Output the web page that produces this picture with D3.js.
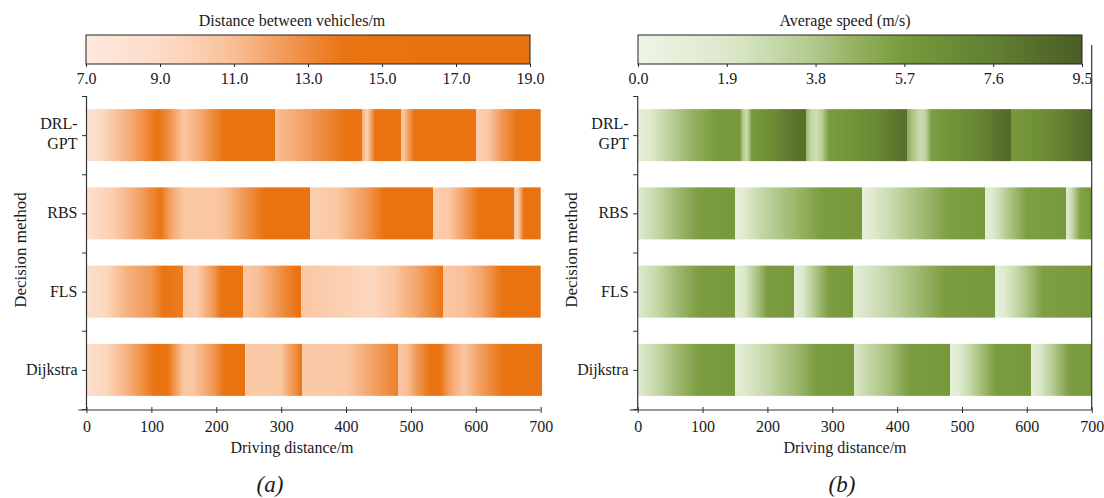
<!DOCTYPE html>
<html>
<head>
<meta charset="utf-8">
<script src="https://cdn.jsdelivr.net/npm/d3@7"></script>
<style>
  body { margin: 0; background: #fff; }
  text { font-family: "Liberation Serif", "Times New Roman", serif; fill: #1a1a1a; }
</style>
</head>
<body>
<svg id="fig" width="1104" height="498"></svg>
<script>
// Decision methods, top to bottom
const methods = ["DRL-GPT", "RBS", "FLS", "Dijkstra"];
const distanceTicks = [0, 100, 200, 300, 400, 500, 600, 700];
const gapTicks = [7.0, 9.0, 11.0, 13.0, 15.0, 17.0, 19.0];
const speedTicks = [0.0, 1.9, 3.8, 5.7, 7.6, 9.5];

// Distance between vehicles (m) along the route: segments of [distance, value]
const gapDRL = [
  [[0, 8.0], [20, 9.0], [47, 10.8], [73, 12.0], [100, 13.5], [110, 15], [125, 13], [150, 10.5], [170, 11.5], [195, 13], [212, 15], [291, 15.5]],
  [[291, 11], [330, 12], [360, 12.8], [400, 14.5], [425, 15.5]],
  [[425, 11.5], [433, 10], [445, 15], [484, 15.5]],
  [[484, 11], [488, 10.5], [505, 15], [600, 15.5]],
  [[600, 10], [620, 10.5], [640, 12.5], [664, 15], [700, 15.5]]
];
const gapRBS = [
  [[0, 8.5], [40, 10], [80, 12], [114, 14.5], [130, 12], [150, 10.5], [200, 10.5], [215, 11], [243, 12.5], [273, 15], [345, 15.5]],
  [[345, 10], [386, 10.5], [433, 12.5], [458, 15], [534, 15.5]],
  [[534, 10], [560, 10.5], [585, 12.5], [605, 15], [659, 15.5]],
  [[659, 10.5], [665, 10], [674, 15], [700, 15.5]]
];
const gapFLS = [
  [[0, 8.5], [30, 9.5], [63, 11.5], [99, 12.5], [119, 15], [135, 13.8], [149, 13.5]],
  [[149, 10.5], [170, 10], [196, 12.5], [208, 15], [241, 15.5]],
  [[241, 10.5], [265, 11], [304, 13], [325, 15], [331, 15.5]],
  [[331, 10.5], [390, 10], [438, 9.3], [474, 10.5], [510, 12], [540, 13.5], [550, 14]],
  [[550, 10.5], [580, 10.8], [610, 12], [640, 15], [700, 15.5]]
];
const gapDijkstra = [
  [[0, 8.5], [30, 9.5], [63, 11.5], [105, 14.5], [125, 14], [150, 10.5], [165, 10.5], [196, 12.5], [212, 15], [244, 15.5]],
  [[244, 10.3], [299, 10.5], [318, 12.5], [332, 14.5]],
  [[332, 10.3], [400, 10.5], [440, 12], [480, 13.5]],
  [[480, 10.5], [495, 11], [510, 12.5], [530, 15], [545, 14], [561, 12], [582, 10.5], [612, 12.5], [643, 15], [702, 15.5]]
];

// Average speed (m/s) along the route
const speedDRL = [
  [[0, 0.8], [20, 1.8], [47, 3.2], [88, 4.8], [124, 5.7], [157, 5.7], [163, 3.5], [168, 2.8], [172, 4.0], [176, 5.8], [210, 6.8], [242, 8.3], [259, 8.6]],
  [[259, 4.5], [268, 3.0], [276, 2.6], [284, 3.5], [295, 5.6], [330, 6.2], [370, 7.0], [400, 8.2], [415, 8.6]],
  [[415, 5.0], [425, 3.8], [436, 2.8], [444, 3.2], [453, 5.6], [490, 6.3], [530, 7.2], [560, 8.5], [575, 8.8]],
  [[575, 5.8], [610, 6.3], [650, 7.3], [690, 8.7], [700, 9.0]]
];
const speedRBS = [
  [[0, 1.5], [30, 3.0], [60, 4.3], [95, 5.6], [150, 5.8]],
  [[150, 0.8], [165, 1.5], [190, 3.0], [250, 4.6], [285, 5.6], [346, 5.8]],
  [[346, 0.8], [360, 1.5], [390, 2.8], [440, 4.3], [480, 5.5], [536, 5.8]],
  [[536, 1.0], [550, 2.0], [572, 3.8], [600, 5.5], [660, 5.8]],
  [[660, 1.2], [668, 2.5], [682, 5.3], [700, 5.8]]
];
const speedFLS = [
  [[0, 1.5], [30, 3.0], [60, 4.3], [95, 5.6], [150, 5.8]],
  [[150, 1.0], [165, 2.0], [182, 3.8], [200, 5.6], [241, 5.8]],
  [[241, 1.0], [255, 2.0], [273, 3.8], [295, 5.6], [332, 5.8]],
  [[332, 1.2], [350, 2.0], [390, 3.2], [435, 4.4], [475, 5.6], [551, 5.8]],
  [[551, 0.8], [565, 1.5], [590, 3.3], [625, 5.5], [700, 5.8]]
];
const speedDijkstra = [
  [[0, 1.5], [30, 3.0], [60, 4.3], [95, 5.6], [150, 5.8]],
  [[150, 1.0], [165, 1.8], [200, 3.0], [250, 4.5], [275, 5.6], [333, 5.8]],
  [[333, 2.0], [350, 2.8], [385, 4.0], [420, 5.6], [481, 5.8]],
  [[481, 0.8], [495, 1.5], [510, 2.8], [530, 4.2], [552, 5.6], [606, 5.8]],
  [[606, 1.0], [620, 2.0], [640, 3.6], [665, 5.5], [700, 5.8]]
];

// Colour ramps
const gapColor = d3.scaleLinear()
  .domain([7, 9, 10, 11, 12, 13, 14, 19])
  .range(["#fde9de", "#fcdcc8", "#fbcfb1", "#f8be94", "#f4a46a", "#ee8a3c", "#e97412", "#e8700e"])
  .clamp(true);
const speedColor = d3.scaleLinear()
  .domain([0, 1.9, 2.8, 3.8, 4.7, 5.7, 7.6, 9.5])
  .range(["#eef4e5", "#dde8cc", "#c9dbae", "#b0c78a", "#93b05f", "#789a3c", "#617f31", "#4b5e25"])
  .clamp(true);

const svg = d3.select("#fig");
const defs = svg.append("defs");
const FONT = 16;

function drawPanel(cfg) {
  const x = d3.scaleLinear().domain([0, 700]).range([cfg.x0, cfg.x1]);
  const y = d3.scaleLinear().domain([0, 4]).range([96, 409]);
  const axisY = 410;
  const barH = 52;

  // Colour bar
  const cb = d3.scaleLinear().domain(cfg.cbDomain).range([cfg.cbX0, cfg.cbX1]);
  const cbId = cfg.id + "-cb";
  const cbGrad = defs.append("linearGradient").attr("id", cbId)
    .attr("gradientUnits", "userSpaceOnUse")
    .attr("x1", cfg.cbX0).attr("x2", cfg.cbX1).attr("y1", 0).attr("y2", 0);
  d3.range(0, 1.0001, 0.02).forEach(t => {
    const v = cfg.cbDomain[0] + t * (cfg.cbDomain[1] - cfg.cbDomain[0]);
    cbGrad.append("stop").attr("offset", t).attr("stop-color", cfg.color(v));
  });
  svg.append("rect")
    .attr("x", cfg.cbX0).attr("y", 35)
    .attr("width", cfg.cbX1 - cfg.cbX0).attr("height", 29)
    .attr("fill", `url(#${cbId})`)
    .attr("stroke", "#222").attr("stroke-width", 1);
  const cbAxis = svg.append("g").attr("transform", "translate(0,64)")
    .call(d3.axisBottom(cb).tickValues(cfg.cbTicks).tickFormat(d3.format(".1f")).tickSize(3).tickPadding(6));
  cbAxis.select(".domain").remove();
  cbAxis.selectAll("line").attr("stroke", "#222");
  cbAxis.selectAll("text").attr("font-size", FONT).style("font-family", "Liberation Serif");
  svg.append("text")
    .attr("x", cfg.titleX).attr("y", 20)
    .attr("text-anchor", "middle").attr("dominant-baseline", "central")
    .attr("font-size", FONT).text(cfg.cbTitle);

  // Bars: one gradient per method, hard edges between segments
  methods.forEach((m, i) => {
    const segs = cfg.profiles[i];
    const start = segs[0][0][0];
    const end = segs[segs.length - 1][segs[segs.length - 1].length - 1][0];
    const gid = `${cfg.id}-bar${i}`;
    const g = defs.append("linearGradient").attr("id", gid)
      .attr("gradientUnits", "userSpaceOnUse")
      .attr("x1", x(start)).attr("x2", x(end)).attr("y1", 0).attr("y2", 0);
    segs.forEach(seg => seg.forEach(([d, v]) => {
      g.append("stop").attr("offset", (d - start) / (end - start)).attr("stop-color", cfg.color(v));
    }));
    const cy = y(i + 0.5);
    svg.append("rect")
      .attr("x", x(start)).attr("y", cy - barH / 2)
      .attr("width", x(end) - x(start)).attr("height", barH)
      .attr("fill", `url(#${gid})`);
  });

  // Left axis: ticks at category centres and borders
  const yAxis = svg.append("g").attr("transform", `translate(${cfg.x0},0)`)
    .call(d3.axisLeft(y).tickValues(d3.range(0, 4.01, 0.5)).tickFormat("").tickSize(4.5));
  yAxis.select(".domain").remove();
  yAxis.selectAll("line").attr("stroke", "#333");
  svg.append("line").attr("x1", cfg.x0).attr("x2", cfg.x0).attr("y1", 96).attr("y2", axisY)
    .attr("stroke", "#333").attr("stroke-width", 1.2);

  methods.forEach((m, i) => {
    const cy = y(i + 0.5);
    const lx = cfg.x0 - 9;
    const t = svg.append("text").attr("text-anchor", "end").attr("font-size", FONT);
    if (m === "DRL-GPT") {
      t.append("tspan").attr("x", lx).attr("y", cy - 6).text("DRL-");
      t.append("tspan").attr("x", lx).attr("y", cy + 14).text("GPT");
    } else {
      t.attr("x", lx).attr("y", cy + 5).text(m);
    }
  });

  svg.append("text")
    .attr("transform", `translate(${cfg.x0 - 66},250) rotate(-90)`)
    .attr("text-anchor", "middle").attr("dominant-baseline", "central")
    .attr("font-size", 17).text("Decision method");

  // Bottom axis, ticks crossing the line
  const xAxis = svg.append("g").attr("transform", `translate(0,${axisY})`)
    .call(d3.axisBottom(x).tickValues(distanceTicks).tickSize(3).tickPadding(8));
  xAxis.select(".domain").remove();
  xAxis.selectAll(".tick line").attr("y1", -3).attr("stroke", "#333");
  xAxis.selectAll("text").attr("font-size", FONT).style("font-family", "Liberation Serif");
  svg.append("line").attr("x1", cfg.x0 - 8).attr("x2", cfg.x1).attr("y1", axisY).attr("y2", axisY)
    .attr("stroke", "#333").attr("stroke-width", 1.2);
  svg.append("text")
    .attr("x", cfg.titleX).attr("y", 447)
    .attr("text-anchor", "middle").attr("dominant-baseline", "central")
    .attr("font-size", FONT).text("Driving distance/m");

  if (cfg.rightSpine) {
    svg.append("line").attr("x1", cfg.x1).attr("x2", cfg.x1).attr("y1", 45).attr("y2", axisY)
      .attr("stroke", "#333").attr("stroke-width", 1.2);
  }

  svg.append("text")
    .attr("x", cfg.letterX).attr("y", 484)
    .attr("text-anchor", "middle").attr("dominant-baseline", "central")
    .attr("font-size", 23).attr("font-style", "italic").text(cfg.letter);
}

drawPanel({
  id: "gap", x0: 86.5, x1: 540.7, cbX0: 86, cbX1: 530,
  cbDomain: [7, 19], cbTicks: gapTicks, color: gapColor,
  cbTitle: "Distance between vehicles/m", titleX: 292,
  profiles: [gapDRL, gapRBS, gapFLS, gapDijkstra],
  rightSpine: false, letter: "(a)", letterX: 270
});
drawPanel({
  id: "speed", x0: 637.7, x1: 1091.7, cbX0: 638, cbX1: 1082,
  cbDomain: [0, 9.5], cbTicks: speedTicks, color: speedColor,
  cbTitle: "Average speed (m/s)", titleX: 845,
  profiles: [speedDRL, speedRBS, speedFLS, speedDijkstra],
  rightSpine: true, letter: "(b)", letterX: 842
});
</script>
</body>
</html>
